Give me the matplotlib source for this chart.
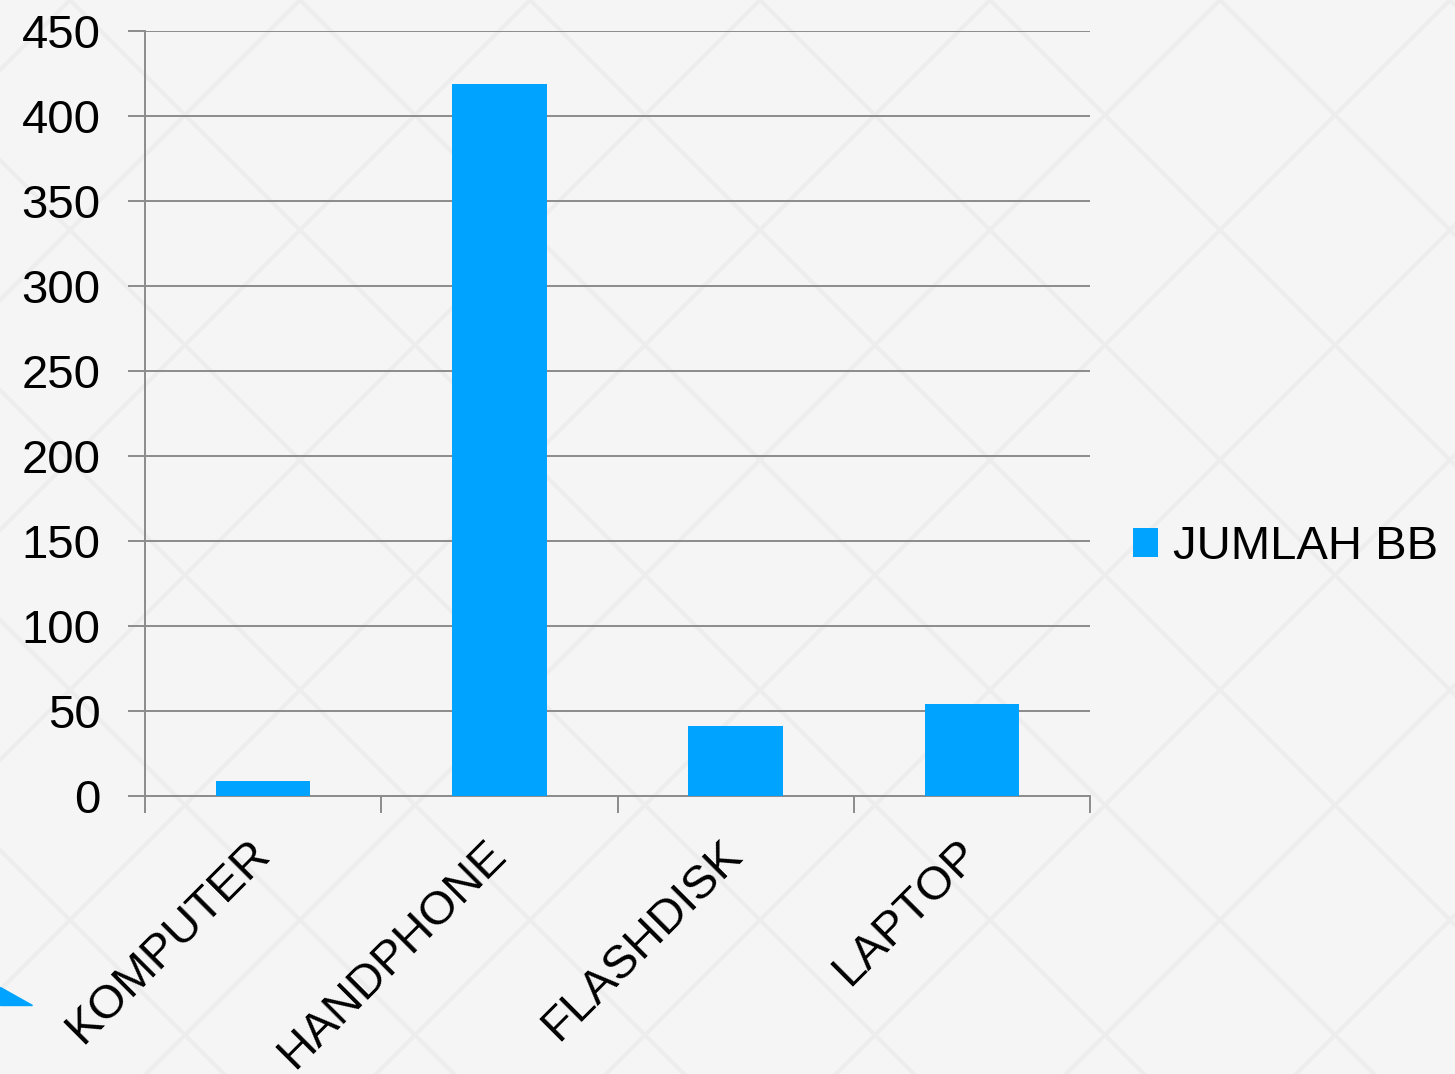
import matplotlib.pyplot as plt
import matplotlib.transforms as mtransforms
import numpy as np
from matplotlib.patches import Polygon

categories = ['KOMPUTER', 'HANDPHONE', 'FLASHDISK', 'LAPTOP']
jumlah_bb = [9, 419, 41, 54]
series_name = 'JUMLAH BB'
yticks = [0, 50, 100, 150, 200, 250, 300, 350, 400, 450]

plt.rcParams['font.family'] = ['Liberation Sans', 'DejaVu Sans']

bg = '#f5f5f5'
grid_col = '#8c8c8c'
bar_col = '#00a3ff'

fig = plt.figure(figsize=(14.55, 10.74), dpi=100, facecolor=bg)

# faint diamond pattern in the background
deco = fig.add_axes([0, 0, 1, 1], zorder=-5)
deco.set_xlim(0, 1455)
deco.set_ylim(1074, 0)
deco.axis('off')
step = 230
for c in np.arange(-2000, 3000, step):
    deco.plot([c, c + 1200], [0, 1200], color='#ededed', lw=3, zorder=0)
    deco.plot([c, c - 1200], [0, 1200], color='#ededed', lw=3, zorder=0)
deco.add_patch(Polygon([[0, 987], [0, 1005], [32, 1005]], closed=True,
                       color=bar_col, zorder=1))

ax = fig.add_axes([145 / 1455, 1 - 796 / 1074, 945 / 1455, 765 / 1074])
ax.set_facecolor('none')

x = np.arange(len(categories))
ax.bar(x, jumlah_bb, width=0.4, color=bar_col, label=series_name, zorder=3)

ax.set_xlim(-0.5, len(categories) - 0.5)
ax.set_ylim(0, 450)
ax.set_yticks(yticks)
ax.set_yticklabels([str(v) for v in yticks], fontsize=34)
ax.yaxis.grid(True, color=grid_col, lw=1.4)
ax.set_axisbelow(True)

ax.set_xticks(x)
ax.set_xticklabels(categories, fontsize=34, rotation=45, ha='right',
                   va='top', rotation_mode='anchor')
ax.set_xticks(np.arange(-0.5, len(categories)), minor=True)
ax.tick_params(axis='x', which='major', length=0, pad=26)
ax.tick_params(axis='x', which='minor', length=12, width=1.4, color=grid_col)
ax.tick_params(axis='y', length=12, width=1.4, color=grid_col, pad=20)

# nudge the rotated category labels a bit to the left
shift = mtransforms.ScaledTranslation(-0.16, 0, fig.dpi_scale_trans)
for lbl in ax.get_xticklabels():
    lbl.set_transform(lbl.get_transform() + shift)

for s in ['top', 'right']:
    ax.spines[s].set_visible(False)
for s in ['left', 'bottom']:
    ax.spines[s].set_color(grid_col)
    ax.spines[s].set_linewidth(1.4)

ax.legend(loc='center left', bbox_to_anchor=(0.0, 0.325), frameon=False,
          fontsize=34, handlelength=0.55, handleheight=0.55, handletextpad=0.3,
          bbox_transform=mtransforms.blended_transform_factory(
              mtransforms.offset_copy(ax.transAxes, fig=fig, x=945, units='dots'),
              ax.transAxes))

fig.savefig('out.png', dpi=100, facecolor=bg)
